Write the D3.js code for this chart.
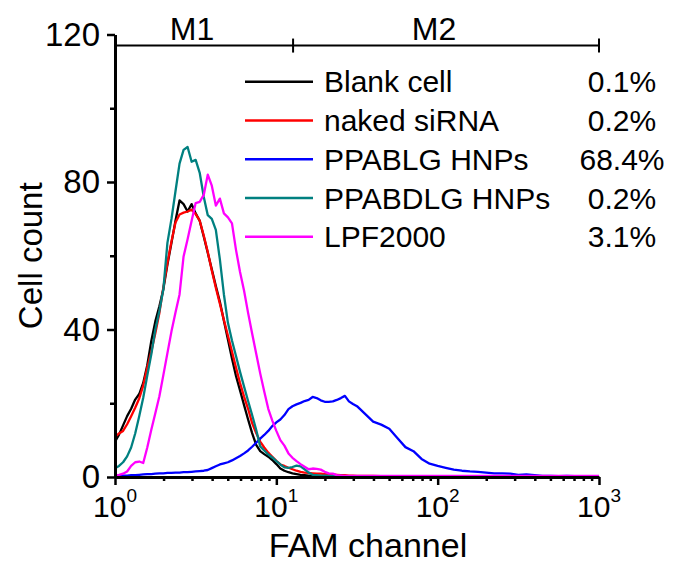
<!DOCTYPE html>
<html>
<head>
<meta charset="utf-8">
<script src="https://cdn.jsdelivr.net/npm/d3@7"></script>
<style>
  body { margin: 0; background: #fff; }
  svg { font-family: "Liberation Sans", Arial, sans-serif; }
</style>
</head>
<body>
<svg id="chart" width="673" height="562"></svg>
<script>
// FAM channel (log scale)
var channel = [1, 1.059, 1.122, 1.189, 1.259, 1.334, 1.413, 1.496, 1.585, 1.679,
  1.778, 1.884, 1.995, 2.113, 2.239, 2.371, 2.512, 2.661, 2.818, 2.985,
  3.162, 3.350, 3.548, 3.758, 3.981, 4.217, 4.467, 4.732, 5.012, 5.309,
  5.623, 5.957, 6.310, 6.683, 7.079, 7.499, 7.943, 8.414, 8.913, 9.441,
  10.0, 10.59, 11.22, 11.89, 12.59, 13.34, 14.13, 14.96, 15.85, 16.79,
  17.78, 18.84, 19.95, 21.13, 22.39, 23.71, 25.12, 26.61, 28.18, 29.85,
  31.62,
  35.48, 39.81, 44.67, 50.12, 56.23, 63.10, 70.79, 79.43, 89.13, 100,
  112.2, 125.9, 141.3, 158.5, 177.8, 199.5, 223.9, 251.2, 281.8, 316.2,
  354.8, 398.1, 446.7, 501.2, 562.3, 631.0, 707.9, 794.3, 891.3, 1000];

var blankCell = [9.6, 11.5, 14.0, 16.5, 18.5, 21.0, 22.5, 25.5, 30.3, 36.9,
  42.2, 46.3, 51.0, 57.6, 63.5, 69.5, 75.0, 74.0, 72.0, 74.0,
  71.5, 69.5, 65.2, 60.8, 56.3, 51.8, 47.5, 42.4, 37.3, 32.1,
  27.4, 23.5, 19.5, 15.6, 11.9, 8.7, 7.0, 6.2, 5.5, 4.6,
  3.5, 2.3, 1.7, 1.3, 1.0, 0.8, 0.6, 0.5, 0.4, 0.3,
  0.3, 0.3, 0.2, 0.2, 0.2, 0.2, 0.2, 0.1, 0.1, 0.1,
  0.1,
  0.1, 0.1, 0.1, 0.1, 0.1, 0.1, 0.1, 0.1, 0.1, 0.1,
  0.1, 0.1, 0, 0, 0, 0, 0, 0, 0, 0,
  0, 0, 0, 0, 0, 0, 0, 0, 0, 0];

var nakedSiRNA = [10.9, 11.8, 12.5, 14.3, 16.5, 18.8, 21.3, 24.8, 29.6, 34.0,
  39.0, 44.5, 51.5, 58.0, 63.9, 69.0, 71.2, 71.7, 72.0, 72.5,
  71.3, 69.5, 65.5, 61.0, 56.0, 51.3, 47.0, 42.6, 38.3, 34.0,
  29.7, 25.5, 21.8, 18.5, 14.6, 11.9, 9.6, 8.0, 6.6, 5.5,
  4.4, 3.4, 3.0, 2.5, 2.1, 1.7, 1.4, 1.2, 1.1, 1.0,
  0.9, 0.9, 0.8, 0.8, 0.7, 0.6, 0.5, 0.5, 0.4, 0.4,
  0.3,
  0.3, 0.3, 0.2, 0.2, 0.2, 0.2, 0.2, 0.1, 0.1, 0.1,
  0.1, 0.1, 0.1, 0.1, 0.1, 0.1, 0.1, 0.1, 0.1, 0.1,
  0.1, 0.1, 0.1, 0.1, 0.1, 0.1, 0.1, 0.1, 0.1, 0.1];

var ppablgHNPs = [0.3, 0.3, 0.4, 0.4, 0.5, 0.5, 0.6, 0.7, 0.8, 0.8,
  0.9, 1.0, 1.0, 1.1, 1.1, 1.2, 1.2, 1.3, 1.3, 1.4,
  1.5, 1.6, 1.7, 1.9, 2.4, 2.9, 3.4, 3.7, 4.0, 4.5,
  5.1, 5.7, 6.4, 7.2, 8.2, 9.3, 10.4, 11.4, 12.5, 13.8,
  14.8, 15.6, 16.8, 18.4, 19.2, 19.7, 20.1, 20.6, 20.9, 21.7,
  21.4, 20.8, 20.4, 20.4, 20.5, 20.9, 21.4, 22.0, 20.5, 19.8,
  19.2,
  17.1, 15.0, 14.2, 13.1, 10.6, 8.1, 7.0, 4.9, 3.6, 3.0,
  2.5, 2.0, 1.7, 1.5, 1.4, 1.2, 1.0, 1.0, 0.9, 0.6,
  0.7, 0.5, 0.3, 0.3, 0.2, 0.3, 0.2, 0.2, 0.2, 0.2];

var ppabdlgHNPs = [2.4, 3.0, 4.0, 5.6, 8.0, 11.8, 16.5, 21.5, 27.5, 33.3,
  40.0, 45.0, 51.0, 63.5, 70.0, 77.5, 85.0, 88.7, 89.5, 85.5,
  86.0, 82.5, 76.0, 71.0, 70.0, 67.0, 59.0, 49.5, 41.8, 37.0,
  32.8, 28.5, 24.5, 20.6, 16.8, 12.8, 8.3, 7.2, 6.1, 5.3,
  4.3, 3.4, 2.6, 2.5, 2.7, 3.1, 2.9, 2.1, 1.2, 0.6,
  0.5, 0.4, 0.4, 0.3, 0.3, 0.3, 0.3, 0.2, 0.2, 0.2,
  0.2,
  0.2, 0.2, 0.2, 0.2, 0.2, 0.2, 0.2, 0.2, 0.2, 0.2,
  0.2, 0.2, 0.1, 0.1, 0.1, 0.1, 0.1, 0.1, 0.1, 0.1,
  0.1, 0.1, 0.1, 0.1, 0.1, 0.1, 0.1, 0.1, 0.1, 0.1];

var lpf2000 = [0.5, 0.6, 0.9, 1.5, 3.0, 4.0, 4.2, 3.8, 8.0, 12.8,
  17.3, 21.9, 27.7, 33.6, 39.5, 44.6, 49.5, 59.8, 64.5, 69.5,
  74.3, 74.6, 76.5, 82.0, 79.0, 73.6, 75.5, 71.5, 70.4, 68.8,
  61.6, 55.6, 50.5, 44.5, 38.9, 33.5, 28.1, 23.2, 18.5, 15.3,
  12.5, 10.0, 8.5, 6.4, 5.2, 4.3, 3.5, 2.8, 2.1, 2.3,
  2.2, 2.0, 1.4, 1.0, 0.9, 0.5, 0.4, 0.3, 0.3, 0.3,
  0.3,
  0.3, 0.3, 0.3, 0.3, 0.3, 0.3, 0.3, 0.3, 0.3, 0.3,
  0.3, 0.3, 0.3, 0.3, 0.3, 0.3, 0.3, 0.3, 0.3, 0.3,
  0.3, 0.3, 0.3, 0.3, 0.3, 0.3, 0.3, 0.3, 0.3, 0.3];

var seriesNames = ["Blank cell", "naked siRNA", "PPABLG HNPs", "PPABDLG HNPs", "LPF2000"];
var seriesPercent = ["0.1%", "0.2%", "68.4%", "0.2%", "3.1%"];
var seriesColors = ["#000000", "#ff0000", "#0000ff", "#008080", "#ff00ff"];
var seriesValues = [blankCell, nakedSiRNA, ppablgHNPs, ppabdlgHNPs, lpf2000];

var gateLabels = ["M1", "M2"];
var gateEdges = [1, 12.7, 1000];
var gateLevel = 117;

var yMajor = [0, 40, 80, 120];
var yMinor = [20, 60, 100];
var xMajor = [1, 10, 100, 1000];
var xMinor = [2, 3, 4, 5, 6, 7, 8, 9, 20, 30, 40, 50, 60, 70, 80, 90,
  200, 300, 400, 500, 600, 700, 800, 900];

var margin = {top: 34.5, right: 74, bottom: 85, left: 115},
  width = 673 - margin.left - margin.right,
  height = 562 - margin.top - margin.bottom;

var svg = d3.select("#chart");
var canvas = svg.append("g")
  .attr("transform", "translate(" + margin.left + "," + margin.top + ")");

var x = d3.scaleLog().domain([1, 1000]).range([0, width]);
var y = d3.scaleLinear().domain([0, 120]).range([height, 0]);

// histograms
var line = d3.line()
  .x(function(d, i) { return x(channel[i]); })
  .y(function(d) { return y(d); });

canvas.selectAll(".trace")
  .data(seriesValues)
  .enter()
  .append("path")
  .attr("class", "trace")
  .attr("d", line)
  .style("fill", "none")
  .style("stroke", function(d, i) { return seriesColors[i]; })
  .style("stroke-width", 2.3)
  .style("stroke-linejoin", "round");

// x axis
var xAxisG = canvas.append("g")
  .attr("transform", "translate(0," + height + ")");
xAxisG.append("g")
  .call(d3.axisBottom(x).tickValues(xMinor).tickSize(4).tickSizeOuter(0).tickFormat(""))
  .call(function(g) { g.select(".domain").remove(); });
xAxisG.append("g")
  .call(d3.axisBottom(x).tickValues(xMajor).tickSize(8).tickSizeOuter(0).tickFormat(""));
xAxisG.selectAll("line").style("stroke", "#000").style("stroke-width", 2.5);
xAxisG.selectAll(".domain").style("stroke", "#000").style("stroke-width", 3);

var xLabels = xAxisG.selectAll(".xlab")
  .data(xMajor)
  .enter()
  .append("text")
  .attr("class", "xlab")
  .attr("x", function(d) { return x(d); })
  .attr("y", 40)
  .style("text-anchor", "middle")
  .style("font-size", "30px")
  .style("fill", "#000");
xLabels.append("tspan").text("10");
xLabels.append("tspan")
  .attr("dy", -15)
  .style("font-size", "19px")
  .text(function(d) { return Math.round(Math.log10(d)); });

// y axis
var yAxisG = canvas.append("g");
yAxisG.append("g")
  .call(d3.axisLeft(y).tickValues(yMinor).tickSize(5).tickSizeOuter(0).tickFormat(""))
  .call(function(g) { g.select(".domain").remove(); });
yAxisG.append("g")
  .call(d3.axisLeft(y).tickValues(yMajor).tickSize(8).tickSizeOuter(0).tickPadding(7));
yAxisG.selectAll("line").style("stroke", "#000").style("stroke-width", 2.5);
yAxisG.selectAll(".domain").style("stroke", "#000").style("stroke-width", 3);
yAxisG.selectAll("text")
  .style("font-family", "'Liberation Sans', Arial, sans-serif")
  .style("font-size", "33px")
  .style("fill", "#000");

// axis titles
svg.append("text")
  .attr("x", 368)
  .attr("y", 556.5)
  .style("text-anchor", "middle")
  .style("font-size", "34px")
  .style("fill", "#000")
  .text("FAM channel");

svg.append("text")
  .attr("transform", "translate(41.5," + (margin.top + height / 2) + ") rotate(-90)")
  .style("text-anchor", "middle")
  .style("font-size", "33px")
  .style("fill", "#000")
  .text("Cell count");

// gate markers M1 / M2
var gateY = y(gateLevel);
canvas.append("line")
  .attr("x1", x(gateEdges[0]))
  .attr("x2", x(gateEdges[gateEdges.length - 1]))
  .attr("y1", gateY)
  .attr("y2", gateY)
  .style("stroke", "#000")
  .style("stroke-width", 2);

canvas.selectAll(".gatetick")
  .data(gateEdges.slice(1))
  .enter()
  .append("line")
  .attr("class", "gatetick")
  .attr("x1", function(d) { return x(d); })
  .attr("x2", function(d) { return x(d); })
  .attr("y1", gateY - 7)
  .attr("y2", gateY + 7)
  .style("stroke", "#000")
  .style("stroke-width", 2);

canvas.selectAll(".gatelabel")
  .data(gateLabels)
  .enter()
  .append("text")
  .attr("class", "gatelabel")
  .attr("x", function(d, i) {
    return (x(gateEdges[i]) + x(gateEdges[i + 1])) / 2 - 12;
  })
  .attr("y", gateY - 5.5)
  .style("text-anchor", "middle")
  .style("font-size", "32px")
  .style("fill", "#000")
  .text(function(d) { return d; });

// legend
var legend = svg.selectAll(".legend")
  .data(seriesNames)
  .enter()
  .append("g")
  .attr("class", "legend")
  .attr("transform", function(d, i) {
    return "translate(0," + (81.7 + i * 38.75) + ")";
  });

legend.append("line")
  .attr("x1", 245)
  .attr("x2", 313)
  .style("stroke", function(d, i) { return seriesColors[i]; })
  .style("stroke-width", 2.5);

legend.append("text")
  .attr("x", 324)
  .attr("y", 10.7)
  .style("font-size", "30px")
  .style("fill", "#000")
  .text(function(d) { return d; });

legend.append("text")
  .attr("x", 622)
  .attr("y", 10.7)
  .style("text-anchor", "middle")
  .style("font-size", "30px")
  .style("fill", "#000")
  .text(function(d, i) { return seriesPercent[i]; });
</script>
</body>
</html>
